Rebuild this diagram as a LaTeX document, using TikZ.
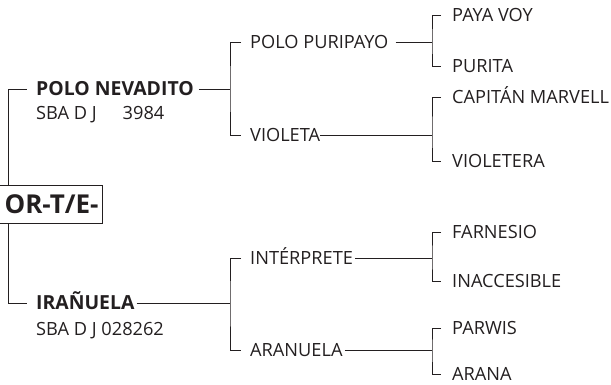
\documentclass[tikz,border=0pt]{standalone}
\usepackage{fontspec}
\setmainfont{Open Sans}
\usetikzlibrary{positioning,calc}
\definecolor{ink}{HTML}{231F20}
\tikzset{
  lbl/.style    ={anchor=west, inner xsep=0pt, inner ysep=0pt, text=ink,
                  text height=13pt, text depth=0pt,
                  font=\fontsize{18.2pt}{20pt}\selectfont},
  sire/.style   ={lbl, text height=13.6pt,
                  font=\fontsize{19.4pt}{20pt}\selectfont\bfseries},
  rootbox/.style={draw=ink, line width=1pt, fill=white, anchor=east,
                  text=ink, inner xsep=4pt, minimum height=38pt,
                  text width=102pt, align=right,
                  font=\fontsize{26pt}{30pt}\selectfont\bfseries},
  link/.style   ={draw=ink, line width=1pt},
}

\begin{document}
\begin{tikzpicture}[x=1pt, y=-1pt]
    \useasboundingbox (0,0) rectangle (611,384);
    % junction points
    \coordinate (j0)  at (8,204);
    \coordinate (j1)  at (230,89);
    \coordinate (j2)  at (230,303);
    \coordinate (j11) at (432,42);
    \coordinate (j12) at (432,135);
    \coordinate (j21) at (432,258);
    \coordinate (j22) at (432,350);
    % root
    \node[rootbox] (root) at (103,204) {OR-T/E-};
    % parents
    \node[sire] (nev)  at (36,89)  {POLO NEVADITO};
    \node[lbl]  (nevr) at (36,113) {SBA D J\hspace{26pt}3984};
    \node[sire] (ira)  at (36,303) {IRAÑUELA};
    \node[lbl]  (irar) at (36,329) {SBA D J 028262};
    % grandparents
    \node[lbl] (pur) at (250,42)  {POLO PURIPAYO};
    \node[lbl] (vio) at (250,135) {VIOLETA};
    \node[lbl] (int) at (250,258) {INTÉRPRETE};
    \node[lbl] (ara) at (250,350) {ARANUELA};
    % great-grandparents
    \node[lbl] (pay) at (452,15)  {PAYA VOY};
    \node[lbl] (prt) at (452,66)  {PURITA};
    \node[lbl] (cap) at (452,97)  {CAPITÁN MARVELL};
    \node[lbl] (vlt) at (452,161) {VIOLETERA};
    \node[lbl] (far) at (452,232) {FARNESIO};
    \node[lbl] (ina) at (452,281) {INACCESIBLE};
    \node[lbl] (par) at (452,328) {PARWIS};
    \node[lbl] (arn) at (452,374) {ARANA};
    % brackets
    \draw[link] (root.north -| j0) |- ([xshift=-9pt]nev.west);
    \draw[link] (root.south -| j0) |- ([xshift=-9pt]ira.west);
    \draw[link] ([xshift=5pt]nev.east) -- (j1);
    \draw[link] ([xshift=2pt]ira.east) -- (j2);
    \draw[link] ([xshift=-9pt]pur.west) -| (j1) |- ([xshift=-9pt]vio.west);
    \draw[link] ([xshift=-9pt]int.west) -| (j2) |- ([xshift=-9pt]ara.west);
    \draw[link] ([xshift=7pt]pur.east) -- (j11);
    \draw[link] (vio.east) -- (j12);
    \draw[link] ([xshift=2pt]int.east) -- (j21);
    \draw[link] ([xshift=2pt]ara.east) -- (j22);
    \draw[link] ([xshift=-11pt]pay.west) -| (j11) |- ([xshift=-11pt]prt.west);
    \draw[link] ([xshift=-11pt]cap.west) -| (j12) |- ([xshift=-11pt]vlt.west);
    \draw[link] ([xshift=-11pt]far.west) -| (j21) |- ([xshift=-11pt]ina.west);
    \draw[link] ([xshift=-11pt]par.west) -| (j22) |- ([xshift=-11pt]arn.west);
  \end{tikzpicture}
\end{document}
